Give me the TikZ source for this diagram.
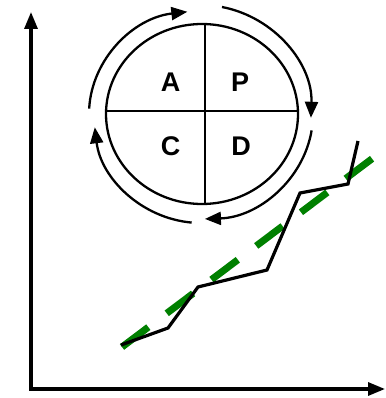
\documentclass[tikz,border=0pt]{standalone}
\usepackage{fontspec}
\setmainfont{Liberation Sans}[BoldFont={Liberation Sans Bold}]
\usepackage{xcolor}
\usetikzlibrary{arrows.meta,shapes.geometric}
\definecolor{trendgreen}{RGB}{0,128,0}

\begin{document}
\begin{tikzpicture}[x=1pt, y=1pt, >={Triangle[length=16pt,width=13pt]}, axis/.style={line width=3.2pt, line join=miter, {Triangle[length=17pt,width=13pt]}-{Triangle[length=17pt,width=13pt]}}, ring/.style={line width=2.3pt}, turn/.style={ring, ->}, letter/.style={font=\bfseries\fontsize{27}{32}\selectfont, inner sep=0pt}, trend/.style={draw=trendgreen, line width=7pt, dash pattern=on 33pt off 23pt}, actual/.style={draw, line width=3.2pt, line join=miter}]
\useasboundingbox (0,0) rectangle (385,-398);

% axes
\coordinate (origin) at (31,-389);
\coordinate (ytop) at (31,-12);
\coordinate (xend) at (385,-389);
\draw[axis] (ytop) -- (origin) -- (xend);

% PDCA wheel
\node[draw, ellipse, ring, minimum width=192pt, minimum height=180pt, inner sep=0pt, outer sep=0pt] (pdca) at (202,-114) {};
\coordinate (hub) at (205,-111);
\draw[ring] (hub |- pdca.north) -- (hub |- pdca.south);
\draw[ring] (hub -| pdca.west) -- (hub -| pdca.east);
\node[letter] (A) at (170.5,-82.5) {A};
\node[letter] (P) at (240,-82.5) {P};
\node[letter] (C) at (170.5,-146.5) {C};
\node[letter] (D) at (241,-146.5) {D};

% turning arrows
\coordinate (ring) at (201,-114);
\draw[turn] ([shift={(177:112 and 103)}]ring) arc[start angle=177, end angle=97, x radius=112, y radius=103];
\draw[turn] ([shift={(79:110 and 109)}]ring) arc[start angle=79, end angle=-2, x radius=110, y radius=109];
\draw[turn] ([shift={(-9:112 and 105)}]ring) arc[start angle=-9, end angle=-88, x radius=112, y radius=105];
\draw[turn] ([shift={(-95:107 and 109)}]ring) arc[start angle=-95, end angle=-173, x radius=107, y radius=109];

% trend and actual curve
\coordinate (t0) at (122,-347);
\coordinate (t1) at (373,-158);
\draw[trend] (t0) -- (t1);
\coordinate (s1) at (121,-345);
\coordinate (s2) at (168,-328);
\coordinate (s3) at (198,-287);
\coordinate (s4) at (267,-270);
\coordinate (s5) at (300,-193);
\coordinate (s6) at (348,-184);
\coordinate (s7) at (358,-141);
\draw[actual] (s1) -- (s2) -- (s3) -- (s4) -- (s5) -- (s6) -- (s7);
\end{tikzpicture}
\end{document}
